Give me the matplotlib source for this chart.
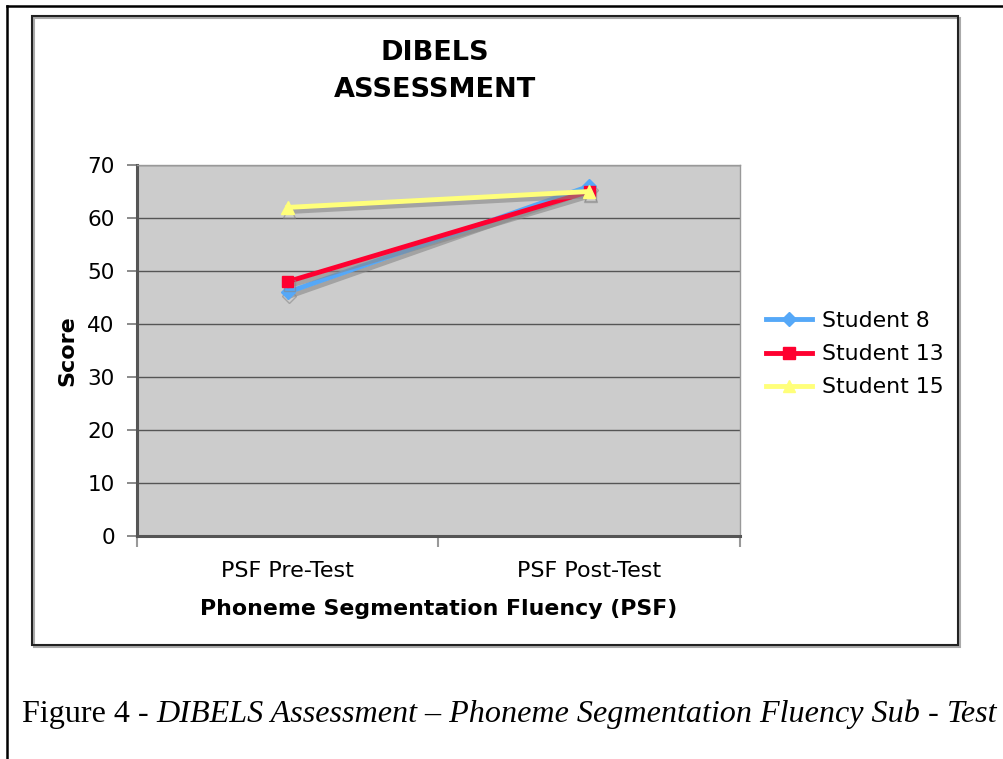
import matplotlib
matplotlib.use('Agg')
import matplotlib.pyplot as plt
import matplotlib.patheffects as pe
from matplotlib.patches import Rectangle
from matplotlib.lines import Line2D

# data
categories = ['PSF Pre-Test', 'PSF Post-Test']
student8 = [46, 66]
student13 = [48, 65]
student15 = [62, 65]
series_names = ['Student 8', 'Student 13', 'Student 15']
yticks = [0, 10, 20, 30, 40, 50, 60, 70]

W, H = 1004, 759
fig = plt.figure(figsize=(W / 100, H / 100), dpi=100)
fig.patch.set_facecolor('white')


def fx(px):
    return px / W


def fy(py):
    return 1 - py / H


# page lines (top and left)
fig.add_artist(Line2D([fx(7), fx(1004)], [fy(6), fy(6)], color='black', lw=1.8))
fig.add_artist(Line2D([fx(7), fx(7)], [fy(6), fy(759)], color='black', lw=1.8))

# chart frame with a small shadow
fig.add_artist(Rectangle((fx(34), fy(647)), fx(958 - 32), fy(18) - fy(647),
                         transform=fig.transFigure, fill=False, ec='#aaaaaa', lw=1.5))
fig.add_artist(Rectangle((fx(32), fy(645)), fx(958 - 32), fy(16) - fy(645),
                         transform=fig.transFigure, fill=False, ec='#222222', lw=1.5))

ax = fig.add_axes([fx(137), fy(536), fx(740 - 137), fy(165) - fy(536)])
ax.set_facecolor('#cccccc')

x = list(range(len(categories)))
colors = ['#55a8f8', '#ff0030', '#ffff7a']
markers = ['D', 's', '^']
msizes = [7, 8, 9]
shadow = [pe.SimpleLineShadow(offset=(1, -3), shadow_color='#888888', alpha=0.6), pe.Normal()]
for i, vals in enumerate([student8, student13, student15]):
    ax.plot(x, vals, color=colors[i], lw=3.5, marker=markers[i], ms=msizes[i],
            path_effects=shadow, zorder=3 + i)

ax.set_xlim(-0.5, len(categories) - 0.5)
ax.set_ylim(0, 70)
ax.set_yticks(yticks)
ax.set_xticks(x)
ax.set_xticklabels(categories, fontsize=16)
ax.set_xticks([-0.5, 0.5, 1.5], minor=True)
ax.tick_params(axis='x', which='major', length=0, pad=18)
ax.tick_params(axis='x', which='minor', length=8, width=1.5, color='#999999')
ax.tick_params(axis='y', length=7, width=1.2, color='#777777', labelsize=15.5, pad=9)
ax.grid(axis='y', color='#555555', lw=1)
ax.set_axisbelow(True)
for s in ['top', 'right']:
    ax.spines[s].set_color('#999999')
    ax.spines[s].set_linewidth(1)
for s in ['left', 'bottom']:
    ax.spines[s].set_color('#555555')
    ax.spines[s].set_linewidth(2.2)

ax.set_xlabel('Phoneme Segmentation Fluency (PSF)', fontsize=15.8, fontweight='bold', labelpad=13)
ax.set_ylabel('Score', fontsize=16, fontweight='bold', labelpad=7.5)

fig.text(fx(435), fy(71.5), 'DIBELS\nASSESSMENT', ha='center', va='center',
         fontsize=19.5, fontweight='bold', linespacing=1.55)

handles = [Line2D([], [], color=colors[i], lw=3.5, marker=markers[i], ms=msizes[i])
           for i in range(3)]
ax.legend(handles, series_names, loc='center left', bbox_to_anchor=(1.028, 0.49),
          frameon=False, fontsize=15.8, handlelength=2.1, handletextpad=0.45,
          labelspacing=0.6, borderaxespad=0)

# caption with mixed upright / italic pieces
pieces = [('Figure 4 - ', 'normal'),
          ('DIBELS Assessment \u2013 Phoneme Segmentation Fluency Sub', 'italic'),
          (' - ', 'normal'),
          ('Test', 'italic')]
fig.canvas.draw()
r = fig.canvas.get_renderer()
xpos = 22
for txt, style in pieces:
    t = fig.text(fx(xpos), fy(722), txt, fontsize=23.1, family='Liberation Serif',
                 style=style, ha='left', va='baseline')
    bb = t.get_window_extent(renderer=r)
    xpos += bb.width

fig.savefig('out.png', dpi=100)
